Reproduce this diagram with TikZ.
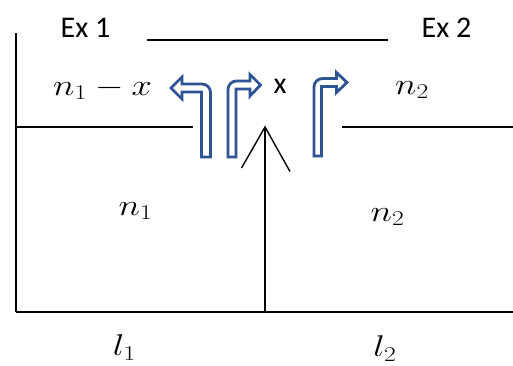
\RequirePackage{fix-cm}
\documentclass[tikz,border=0pt]{standalone}
\usepackage{fontspec}
\usepackage{graphicx}
\setmainfont{Carlito}
\definecolor{arrblue}{RGB}{46,84,150}
\tikzset{
  wall/.style={line width=1.6pt, black},
  bentarrow/.style={draw=arrblue, line width=2.8pt, fill=white, line join=miter},
  lab/.style={inner sep=0pt, anchor=base, font=\fontsize{30}{36}\selectfont},
  mlab/.style={inner sep=0pt, anchor=base, font=\fontsize{30}{36}\selectfont}
}
\newcommand{\wm}[1]{\scalebox{1.22}[1]{$#1$}}
\begin{document}
\begin{tikzpicture}[x=1pt,y=-1pt]
\useasboundingbox (0,0) rectangle (513,365);
% walls
\draw[wall] (16,33) -- (16,312);
\draw[wall] (16,312) -- (513,312);
\draw[wall] (16,127) -- (193,127);
\draw[wall] (342,127) -- (513,127);
\draw[wall] (147,40) -- (388,40);
% central vertical arrow with open head
\coordinate (tip) at (265,127);
\coordinate (foot) at (265,312);
\coordinate (hl) at (241.5,168);
\coordinate (hr) at (290,171.5);
\draw[wall] (foot) -- (tip);
\draw[line width=1.4pt] (hl) -- (tip) -- (hr);
% bent arrow 1 (turns left)
\draw[bentarrow] (201.5,157) -- (201.5,92) -- (182,92) -- (182,99) -- (171,88) -- (182,77) -- (182,84) -- (202,84)
  .. controls (206.7,84) and (210.5,87.8) .. (210.5,92.5) -- (210.5,157) -- cycle;
% bent arrow 2 (turns right)
\draw[bentarrow] (236,157) -- (236,89) -- (250,89) -- (250,96) -- (260.5,85) -- (250,74.5) -- (250,81) -- (236.5,81)
  .. controls (231.8,81) and (228,84.8) .. (228,89.5) -- (228,157) -- cycle;
% bent arrow 3 (turns right)
\draw[bentarrow] (321.5,156) -- (321.5,86.5) -- (336.5,86.5) -- (336.5,92.5) -- (347,82.5) -- (336.5,72.5) -- (336.5,78.5) -- (322.5,78.5)
  .. controls (317.8,78.5) and (314,82.3) .. (314,87) -- (314,156) -- cycle;
% labels
\node[lab] (ex1) at (85.5,37.3) {Ex 1};
\node[lab] (ex2) at (446.5,37.3) {Ex 2};
\node[lab] (xx) at (280,93) {x};
\node[mlab, anchor=base west] (n1x) at (53,95) {\wm{n_1 - x}};
\node[mlab] (n2t) at (412,94) {\wm{n_2}};
\node[mlab] (n1) at (135.5,215) {\wm{n_1}};
\node[mlab] (n2) at (387.5,221) {\wm{n_2}};
\node[mlab] (l1) at (124.5,355.5) {\wm{l_1}};
\node[mlab] (l2) at (385,356.5) {\wm{l_2}};
\end{tikzpicture}
\end{document}
